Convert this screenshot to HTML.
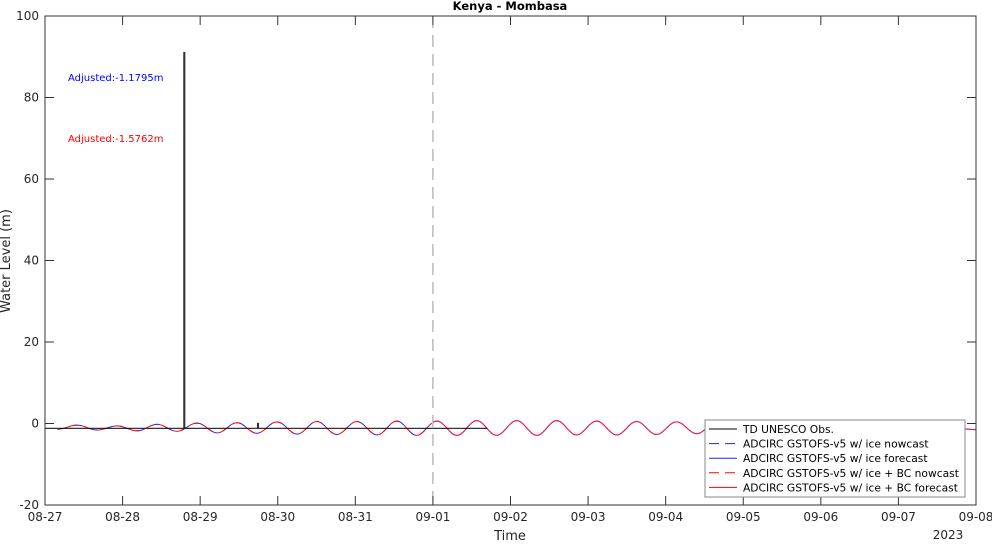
<!DOCTYPE html>
<html><head><meta charset="utf-8"><style>
body{margin:0;background:#fff;}
svg text{font-family:"DejaVu Sans","Liberation Sans",sans-serif;}
</style></head><body>
<svg id="chart" width="992" height="541" xmlns="http://www.w3.org/2000/svg">
<rect x="0" y="0" width="992" height="541" fill="#fff"/>
<g id="grid"></g>
<g id="series"></g>
<g id="axes"></g>
</svg>
<script>
const xTickLabels=["08-27","08-28","08-29","08-30","08-31","09-01","09-02","09-03","09-04","09-05","09-06","09-07","09-08"];
const yTicks=[-20,0,20,40,60,80,100];
const extremeTimes=[0.16,0.415,0.67,0.93,1.19,1.445,1.70,1.96,2.22,2.475,2.73,2.99,3.25,3.505,3.76,4.02,4.28,4.535,4.79,5.05,5.31,5.565,5.82,6.08,6.34,6.595,6.85,7.11,7.37,7.625,7.88,8.14,8.40,8.655,8.91,9.17,9.43,9.685,9.94,10.2,10.46,10.715,10.97,11.23,11.49,11.745,12.0];
const modelValues=[-1.4,-0.4,-1.6,-0.6,-1.8,-0.2,-1.9,0.1,-2.3,0.2,-2.4,0.4,-2.6,0.5,-2.7,0.5,-2.8,0.6,-2.9,0.6,-2.9,0.7,-2.9,0.7,-2.9,0.7,-2.8,0.6,-2.8,0.5,-2.7,0.4,-2.5,0.3,-2.3,0.0,-2.0,-0.3,-1.7,-0.6,-1.5,-0.8,-1.3,-0.9,-1.3,-1.2,-1.5];
const nowcastEnd=5.0;
const obsTimes=[0,1.79,1.79,1.80,1.80,2.74,2.74,2.75,2.75,5.7];
const obsValues=[-1.2,-1.2,91,91,-1.2,-1.2,0,0,-1.2,-1.2];
const X0=45,X1=976,Y0=505,Y1=16,D0=0,D1=12,V0=-20,V1=100;
const xs=d=>X0+(d-D0)/(D1-D0)*(X1-X0);
const ys=v=>Y0-(v-V0)/(V1-V0)*(Y0-Y1);
const NS="http://www.w3.org/2000/svg";
function mk(tag,attrs,parent){const e=document.createElementNS(NS,tag);for(const k in attrs)e.setAttribute(k,attrs[k]);parent.appendChild(e);return e;}
const axes=document.getElementById('axes'),series=document.getElementById('series'),grid=document.getElementById('grid');
const fr=mk('rect',{x:X0,y:Y1,width:X1-X0,height:Y0-Y1,fill:'none',stroke:'#333','stroke-width':1},axes);

xTickLabels.forEach((l,i)=>{const x=xs(i);
 mk('line',{x1:x,x2:x,y1:Y0,y2:Y0-9,stroke:'#333'},axes);
 mk('line',{x1:x,x2:x,y1:Y1,y2:Y1+9,stroke:'#333'},axes);
 const t=mk('text',{x:x,y:Y0+16,'text-anchor':'middle','font-size':12,fill:'#262626'},axes);t.textContent=l;
 });
yTicks.forEach(v=>{const y=ys(v);
 mk('line',{x1:X0,x2:X0+9,y1:y,y2:y,stroke:'#333'},axes);
 mk('line',{x1:X1,x2:X1-9,y1:y,y2:y,stroke:'#333'},axes);
 const t=mk('text',{x:X0-6,y:y+4,'text-anchor':'end','font-size':12,fill:'#262626'},axes);t.textContent=v;
 });
const dv=mk('line',{x1:xs(5),x2:xs(5),y1:Y1,y2:Y0,stroke:'#999','stroke-dasharray':'12,7'},grid);

function curvePts(t0,t1){const pts=[];
 for(let i=0;i<extremeTimes.length-1;i++){const a=extremeTimes[i],b=extremeTimes[i+1];
  for(let k=0;k<=12;k++){const t=a+(b-a)*k/12;if(t<t0||t>t1)continue;
   const f=(1-Math.cos(Math.PI*k/12))/2;const v=modelValues[i]+(modelValues[i+1]-modelValues[i])*f;pts.push(xs(t).toFixed(1)+','+ys(v).toFixed(1));}}
 return pts.join(' ');}
const nowPts=curvePts(0,nowcastEnd),fcPts=curvePts(nowcastEnd,12);
const s1=mk('polyline',{points:nowPts,fill:'none',stroke:'#2020ff','stroke-width':1,'stroke-dasharray':'10,6'},series);

const s2=mk('polyline',{points:fcPts,fill:'none',stroke:'#2020ff','stroke-width':1},series);

const s3=mk('polyline',{points:nowPts,fill:'none',stroke:'#ff0000','stroke-width':1,'stroke-dasharray':'10,6','stroke-dashoffset':6},series);

const s4=mk('polyline',{points:fcPts,fill:'none',stroke:'#ff1a40','stroke-width':1},series);

const ob=mk('polyline',{points:obsTimes.map((t,i)=>xs(t).toFixed(1)+','+ys(obsValues[i]).toFixed(1)).join(' '),fill:'none',stroke:'#000','stroke-width':1.3,opacity:0.8},series);

const tt=mk('text',{x:510,y:10,'text-anchor':'middle','font-size':11.5,'font-weight':'bold',fill:'#000'},axes);tt.textContent='Kenya - Mombasa';

const xl=mk('text',{x:510,y:540,'text-anchor':'middle','font-size':13,fill:'#262626'},axes);xl.textContent='Time';

const yr=mk('text',{x:948,y:539,'text-anchor':'middle','font-size':12,fill:'#262626'},axes);yr.textContent='2023';

const yl=mk('text',{x:10,y:261,'text-anchor':'middle','font-size':13,fill:'#262626',transform:'rotate(-90 10 261)'},axes);yl.textContent='Water Level (m)';

const a1=mk('text',{x:68,y:81,'font-size':10,fill:'#0000ff'},axes);a1.textContent='Adjusted:-1.1795m';

const a2=mk('text',{x:68,y:142,'font-size':10,fill:'#ff0000'},axes);a2.textContent='Adjusted:-1.5762m';

const lg=mk('g',{},axes);

mk('rect',{x:705,y:420,width:260,height:77,fill:'#fff',stroke:'#888'},lg);
const legNames=['TD UNESCO Obs.','ADCIRC GSTOFS-v5 w/ ice nowcast','ADCIRC GSTOFS-v5 w/ ice forecast','ADCIRC GSTOFS-v5 w/ ice + BC nowcast','ADCIRC GSTOFS-v5 w/ ice + BC forecast'];
const legCol=['#000','#2020ff','#2020ff','#ff0000','#ff0000'];
const legDash=['','10,6','','10,6',''];
legNames.forEach((n,i)=>{const y=429+i*14.6;
 const ln=mk('line',{x1:709,x2:737,y1:y,y2:y,stroke:legCol[i]},lg);if(legDash[i])ln.setAttribute('stroke-dasharray',legDash[i]);
 const t=mk('text',{x:743,y:y+4,'font-size':10.7,fill:'#000'},lg);t.textContent=n;
 });
</script>
</body></html>
